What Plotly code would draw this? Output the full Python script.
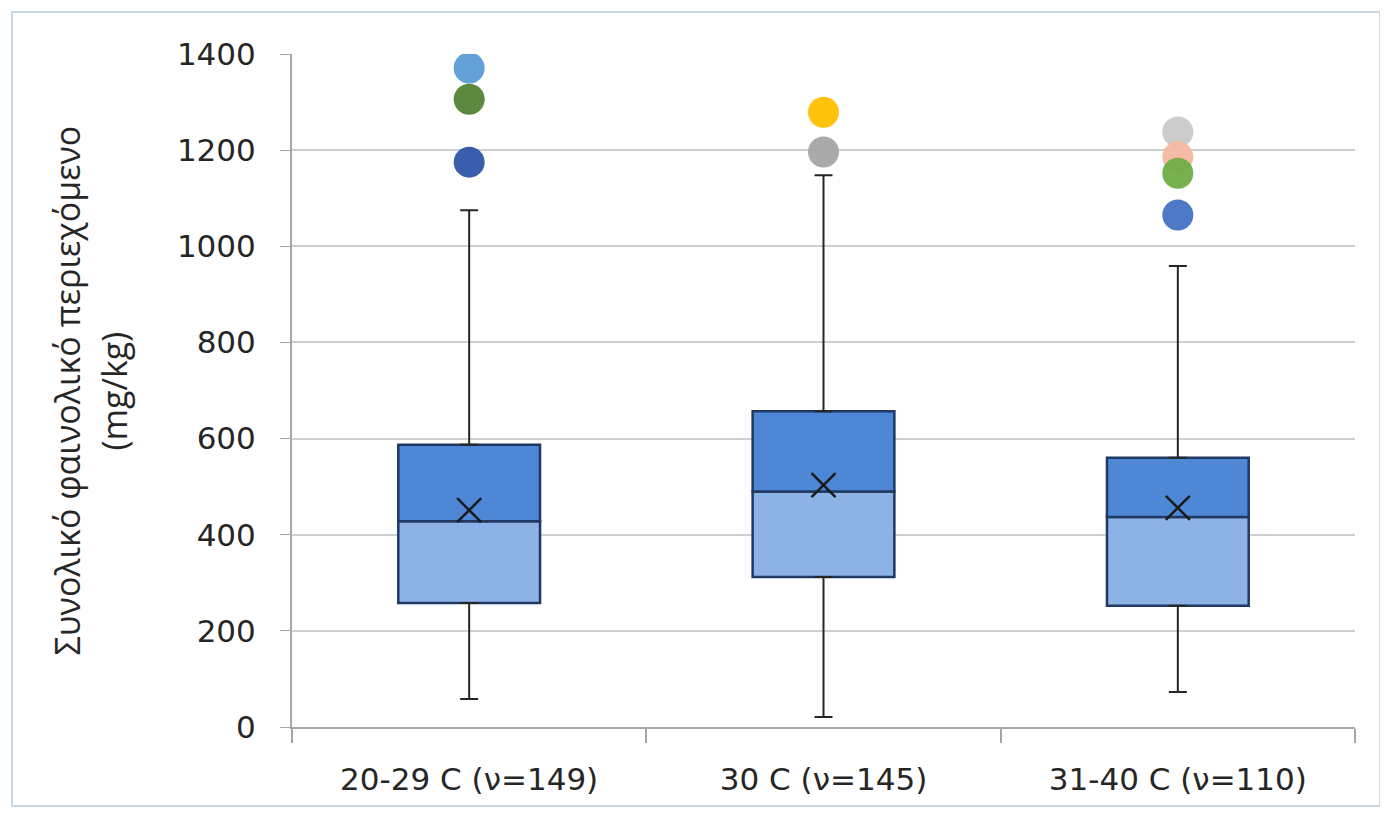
import plotly.graph_objects as go

categories = ["20-29 C (ν=149)", "30 C (ν=145)", "31-40 C (ν=110)"]
q1 = [258, 312, 252]
median = [428, 490, 437]
q3 = [587, 657, 560]
mean = [451, 503, 456]
lower = [58, 21, 73]
upper = [1075, 1148, 959]

outlier_x = [categories[0]] * 3 + [categories[1]] * 2 + [categories[2]] * 4
outlier_y = [1371, 1306, 1175, 1279, 1196, 1238, 1186, 1152, 1065]
outlier_colors = ["#5B9BD5", "#548235", "#2F55A8", "#FFC000", "#A5A5A5",
                  "#C9C9C9", "#F4B8A0", "#70AD47", "#4472C4"]

y_title_lines = ["Συνολικό φαινολικό περιεχόμενο", "(mg/kg)"]

lower_half = [m - a for m, a in zip(median, q1)]
upper_half = [b - m for b, m in zip(q3, median)]

fig = go.Figure()

edge = dict(color="#1F3864", width=2.5)
fig.add_trace(go.Bar(x=categories, y=lower_half, base=q1, width=0.4,
                     marker=dict(color="#8DB3E6", line=edge), showlegend=False))
fig.add_trace(go.Bar(x=categories, y=upper_half, base=median, width=0.4,
                     marker=dict(color="#4D87D5", line=edge), showlegend=False))

# whiskers
fig.add_trace(go.Scatter(
    x=categories, y=q3, mode="markers", marker=dict(size=1, color="rgba(0,0,0,0)"),
    error_y=dict(type="data", symmetric=False,
                 array=[u - b for u, b in zip(upper, q3)],
                 arrayminus=[0, 0, 0], color="#262626", thickness=2, width=9),
    showlegend=False, hoverinfo="skip"))
fig.add_trace(go.Scatter(
    x=categories, y=q1, mode="markers", marker=dict(size=1, color="rgba(0,0,0,0)"),
    error_y=dict(type="data", symmetric=False,
                 array=[0, 0, 0],
                 arrayminus=[a - l for a, l in zip(q1, lower)],
                 color="#262626", thickness=2, width=9),
    showlegend=False, hoverinfo="skip"))

# mean markers
fig.add_trace(go.Scatter(x=categories, y=mean, mode="markers",
                         marker=dict(symbol="x-thin", size=24,
                                     line=dict(color="#1A1A1A", width=2.5)),
                         showlegend=False))

# outliers
fig.add_trace(go.Scatter(x=outlier_x, y=outlier_y, mode="markers",
                         marker=dict(size=31, color=outlier_colors, opacity=0.95),
                         showlegend=False))

font_family = "'DejaVu Sans', sans-serif"

fig.update_layout(
    width=1380, height=808,
    margin=dict(l=284, r=33, t=46, b=89),
    plot_bgcolor="white", paper_bgcolor="white",
    barmode="overlay",
    font=dict(family=font_family, size=31, color="#262626"),
    xaxis=dict(type="category", categoryorder="array", categoryarray=categories,
               showline=True, linecolor="#A6A6A6", linewidth=2,
               ticks="outside", tickson="boundaries", ticklen=14,
               tickcolor="#A6A6A6", tickwidth=1.5, showgrid=False,
               tickfont=dict(size=31), ticklabelstandoff=24),
    yaxis=dict(range=[0, 1400], tickvals=[0, 200, 400, 600, 800, 1000, 1200, 1400],
               showline=True, linecolor="#A6A6A6", linewidth=2,
               ticks="outside", ticklen=10, tickcolor="#A6A6A6",
               showgrid=True, gridcolor="#CFCFCF", gridwidth=1.5,
               zeroline=False, tickfont=dict(size=31), ticklabelstandoff=18),
    annotations=[
        dict(text=y_title_lines[0], xref="paper", yref="paper", x=-0.2126, y=0.5,
             xanchor="center", yanchor="middle", textangle=-90, showarrow=False,
             font=dict(size=34, family="'Open Sans', sans-serif")),
        dict(text=y_title_lines[1], xref="paper", yref="paper", x=-0.1675, y=0.5,
             xanchor="center", yanchor="middle", textangle=-90, showarrow=False,
             font=dict(size=34, family="'Open Sans', sans-serif")),
    ],
    shapes=[dict(type="rect", xref="paper", yref="paper",
                 x0=-0.2634, x1=1.0235, y0=-0.1174, y1=1.0624,
                 line=dict(color="#C9D7E3", width=2), fillcolor="rgba(0,0,0,0)",
                 layer="below")],
)

fig.write_html("out.html")
